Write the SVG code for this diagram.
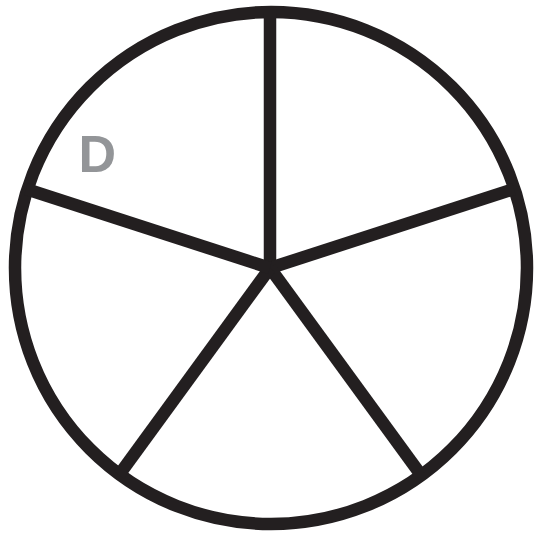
<svg xmlns="http://www.w3.org/2000/svg" width="535" height="540" viewBox="0 0 535 540">
<style>
.ln{stroke:#231f20;stroke-width:12.5;fill:none}
.lbl{font-family:"Liberation Sans",Arial,sans-serif;font-weight:bold;fill:#939598}
</style>
<rect width="535" height="540" fill="#fff"/>
<g id="circle"><circle class="ln" cx="271" cy="268" r="256"/></g>
<g id="connectors">
<line class="ln" x1="270" y1="268" x2="270" y2="13"/>
<line class="ln" x1="270" y1="268" x2="514" y2="189"/>
<line class="ln" x1="270" y1="268" x2="421" y2="475"/>
<line class="ln" x1="270" y1="268" x2="119" y2="475"/>
<line class="ln" x1="270" y1="268" x2="26" y2="189"/>
</g>
<g id="label-D"><text class="lbl" x="78.5" y="171.5" font-size="52">D</text></g>
</svg>
